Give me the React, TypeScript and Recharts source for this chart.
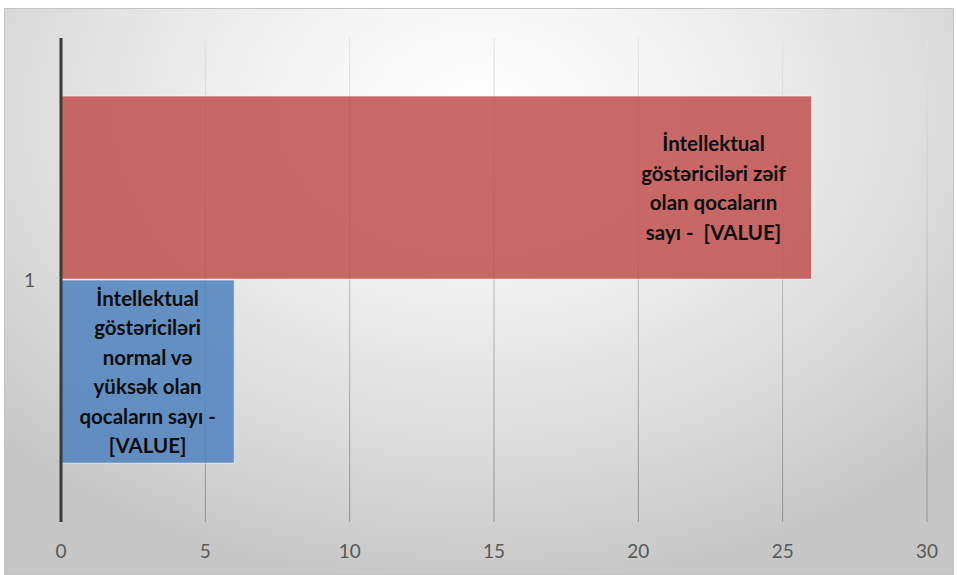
import { BarChart, Bar, XAxis, YAxis, CartesianGrid, LabelList } from "recharts";

const categories = ["1"];
const weakCounts = [26];
const normalCounts = [6];
const xTicks = [0, 5, 10, 15, 20, 25, 30];
const weakLabelLines = ["İntellektual", "göstəriciləri zəif", "olan qocaların", "sayı - \u00a0[VALUE]"];
const normalLabelLines = [
  "İntellektual",
  "göstəriciləri",
  "normal və",
  "yüksək olan",
  "qocaların sayı -",
  "[VALUE]",
];

const data = categories.map((name, i) => ({
  name,
  weak: weakCounts[i],
  normal: normalCounts[i],
}));

const FONT = "Lato, 'Open Sans', sans-serif";

/** Etiket, çubuğun iç ucunda, bir neçə sətir. */
function makeLabel(lines: string[], blockWidth: number) {
  return (props: any) => {
    const x = Number(props.x);
    const y = Number(props.y);
    const w = Number(props.width);
    const h = Number(props.height);
    const pad = 18;
    const cx = Math.max(x + w / 2, x + w - pad - blockWidth / 2);
    const lh = 29.5;
    const cy = y + h / 2;
    const top = cy - ((lines.length - 1) * lh) / 2;
    return (
      <text
        textAnchor="middle"
        fontFamily={FONT}
        fontWeight={700}
        fontSize={20.5}
        fill="#0d0d0d"
      >
        {lines.map((t, i) => (
          <tspan key={i} x={cx} y={top + i * lh} dominantBaseline="central">
            {t}
          </tspan>
        ))}
      </text>
    );
  };
}

export default function App() {
  return (
    <div style={{ position: "absolute", left: 0, top: 0, width: 957, height: 575 }}>
      <div
        style={{
          position: "absolute",
          left: 4,
          top: 8,
          width: 948,
          height: 565,
          border: "1px solid #c4c4c4",
          background:
            "radial-gradient(ellipse 70% 85% at 50% 18%, #ffffff 0%, #f1f1f1 35%, #dcdcdc 70%, #c6c6c6 100%)",
        }}
      />
      <div style={{ position: "absolute", left: 0, top: 0 }}>
        <BarChart
          width={957}
          height={575}
          data={data}
          layout="vertical"
          margin={{ top: 38, right: 30, bottom: 0, left: 0 }}
          barCategoryGap="12%"
          barGap={1}
        >
          <defs>
            <linearGradient id="gridGrad" gradientUnits="userSpaceOnUse" x1="0" y1="38" x2="0" y2="522">
              <stop offset="0%" stopColor="#e2e2e2" />
              <stop offset="100%" stopColor="#8f8f8f" />
            </linearGradient>
          </defs>
          <CartesianGrid horizontal={false} stroke="url(#gridGrad)" strokeWidth={1} />
          <XAxis
            type="number"
            domain={[0, 30]}
            ticks={xTicks}
            interval={0}
            axisLine={false}
            tickLine={false}
            tickSize={0}
            tickMargin={23}
            height={53}
            tick={{ fontSize: 19, fill: "#595959", fontFamily: FONT }}
          />
          <YAxis
            type="category"
            dataKey="name"
            width={61}
            tickLine={false}
            tickSize={0}
            tickMargin={26}
            axisLine={{ stroke: "#3a3a3a", strokeWidth: 3 }}
            tick={{ fontSize: 19, fill: "#595959", fontFamily: FONT }}
          />
          <Bar
            dataKey="weak"
            fill="#c0504d"
            fillOpacity={0.85}
            stroke="#ffffff"
            strokeOpacity={0.5}
            isAnimationActive={false}
          >
            <LabelList dataKey="weak" content={makeLabel(weakLabelLines, 160)} />
          </Bar>
          <Bar
            dataKey="normal"
            fill="#4f81bd"
            fillOpacity={0.85}
            stroke="#ffffff"
            strokeOpacity={0.5}
            isAnimationActive={false}
          >
            <LabelList dataKey="normal" content={makeLabel(normalLabelLines, 150)} />
          </Bar>
        </BarChart>
      </div>
    </div>
  );
}
